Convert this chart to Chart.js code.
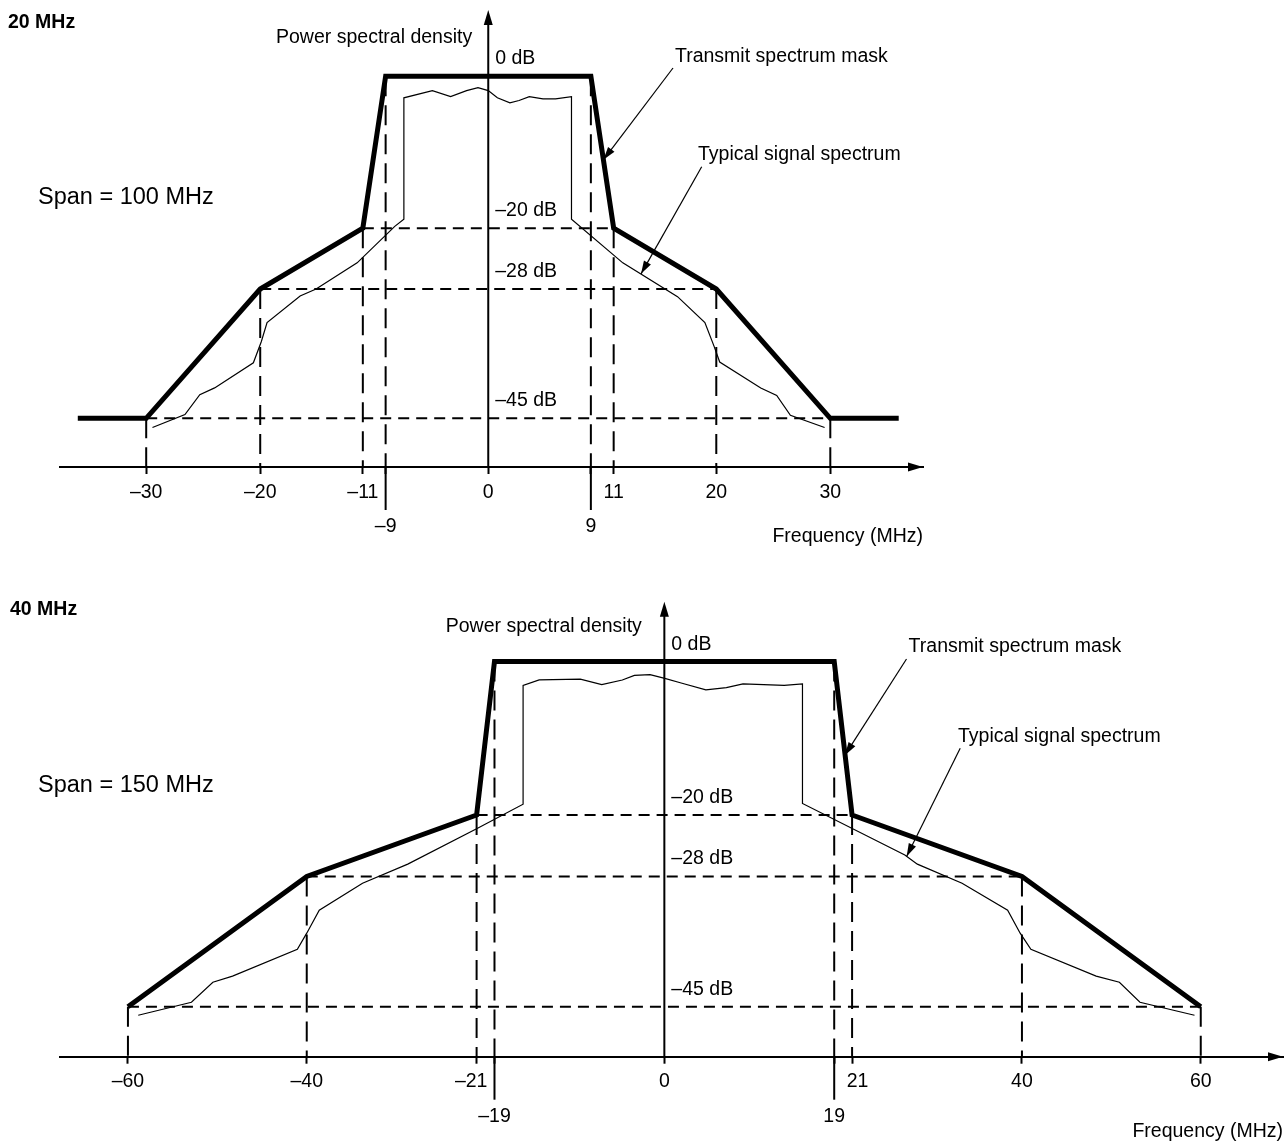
<!DOCTYPE html>
<html>
<head>
<meta charset="utf-8">
<title>Transmit spectrum mask</title>
<script src="https://cdn.jsdelivr.net/npm/chart.js@4.4.1/dist/chart.umd.min.js"></script>
<style>
  html, body { margin: 0; padding: 0; background: #fff; }
  canvas { position: absolute; left: 0; display: block; }
  #chart20 { top: 0; }
  #chart40 { top: 575px; }
</style>
</head>
<body>
<canvas id="chart20" width="1287" height="575"></canvas>
<canvas id="chart40" width="1287" height="571"></canvas>
<script>
const FONT = "'Liberation Sans', Arial, Helvetica, sans-serif";

// 20 MHz channel (MHz / dB)
const ticks20 = [-30, -20, -11, -9, 0, 9, 11, 20, 30];
const lowTicks20 = [-9, 9];
const levels20 = [0, -20, -28, -45];
const maskX20 = [-36, -30, -20, -11, -9, 9, 11, 20, 30, 36];
const maskY20 = [-45, -45, -28, -20, 0, 0, -20, -28, -45, -45];
const sigX20 = [-29.45, -26.6, -25.3, -24.0, -20.6, -19.9, -19.4, -16.5, -15.1, -11.5, -8.2, -7.4,
  -7.4, -4.9, -3.3, -1.9, -0.9, 0, 0.8, 1.9, 2.7, 3.6, 4.8, 5.9, 7.3,
  7.3, 11.8, 16.6, 19.0, 19.8, 20.3, 23.9, 25.3, 26.5, 29.5];
const sigY20 = [-46.2, -44.5, -41.9, -41.0, -37.7, -34.9, -32.4, -28.9, -28.0, -24.55, -19.75, -18.8,
  -2.85, -1.9, -2.7, -1.9, -1.5, -1.9, -2.85, -3.5, -3.2, -2.7, -3.0, -3.0, -2.7,
  -18.8, -24.55, -29.0, -32.4, -35.5, -37.6, -41.0, -42.0, -44.6, -46.2];

// 40 MHz channel (MHz / dB)
const ticks40 = [-60, -40, -21, -19, 0, 19, 21, 40, 60];
const lowTicks40 = [-19, 19];
const levels40 = [0, -20, -28, -45];
const maskX40 = [-60, -40, -21, -19, 19, 21, 40, 60];
const maskY40 = [-45, -28, -20, 0, 0, -20, -28, -45];
const sigX40 = [-58.85, -52.9, -50.5, -48.3, -41.05, -40.0, -38.6, -33.76, -28.7, -21.0, -15.8,
  -15.8, -14.0, -9.4, -7.0, -4.7, -3.35, -1.6, 0.05, 1.88, 4.64, 6.94, 8.8, 11.1, 13.4, 15.45,
  15.45, 26.9, 28.3, 33.3, 38.4, 39.8, 41.0, 48.3, 50.9, 53.2, 59.3];
const sigY40 = [-46.1, -44.4, -41.8, -41.0, -37.5, -35.4, -32.4, -28.9, -26.4, -21.8, -18.6,
  -3.1, -2.4, -2.3, -3.0, -2.4, -1.8, -1.7, -2.2, -2.8, -3.7, -3.4, -2.9, -3.0, -3.1, -2.9,
  -18.5, -25.2, -26.4, -28.9, -32.4, -35.4, -37.5, -41.0, -41.8, -44.4, -46.1];

function dash(v) {
  return v < 0 ? "\u2013" + (-v) : String(v);
}

function pts(xs, ys) {
  return xs.map((x, i) => ({ x: x, y: ys[i] }));
}

// mask level at a given frequency
function levelAt(xs, ys, x) {
  for (let i = 0; i < xs.length - 1; i++) {
    if (x >= xs[i] && x <= xs[i + 1]) {
      const t = (x - xs[i]) / (xs[i + 1] - xs[i]);
      return ys[i] + t * (ys[i + 1] - ys[i]);
    }
  }
  return ys[ys.length - 1];
}

function dashed(data, pattern) {
  return { data: data, borderColor: "#000", borderWidth: 2, borderDash: pattern, pointRadius: 0 };
}

function guideSets(spec) {
  const sets = [];
  spec.ticks.forEach((v) => {
    if (v === 0) return;
    const lvl = levelAt(spec.maskX, spec.maskY, v);
    sets.push(dashed([{ x: v, y: lvl }, { x: v, y: spec.yRange[0] }], [20, 9]));
    if (v < 0 && lvl < 0) sets.push(dashed([{ x: v, y: lvl }, { x: -v, y: lvl }], [11, 7]));
  });
  return sets;
}

function seg(ctx, x1, y1, x2, y2) {
  ctx.beginPath();
  ctx.moveTo(x1, y1);
  ctx.lineTo(x2, y2);
  ctx.stroke();
}

function head(ctx, fx, fy, tx, ty, len, half) {
  const ang = Math.atan2(ty - fy, tx - fx);
  const bx = tx - len * Math.cos(ang), by = ty - len * Math.sin(ang);
  const nx = -Math.sin(ang) * half, ny = Math.cos(ang) * half;
  ctx.beginPath();
  ctx.moveTo(tx, ty);
  ctx.lineTo(bx + nx, by + ny);
  ctx.lineTo(bx - nx, by - ny);
  ctx.closePath();
  ctx.fill();
}

function notesPlugin(spec) {
  return {
    id: "notes",
    afterDraw(chart) {
      const { ctx, chartArea: a } = chart;
      const sx = chart.scales.x, sy = chart.scales.y;
      const x0 = sx.getPixelForValue(0);
      ctx.save();
      ctx.strokeStyle = "#000";
      ctx.fillStyle = "#000";
      ctx.lineWidth = 2;
      // axes arrows
      seg(ctx, x0, a.top + 10, x0, a.bottom);
      head(ctx, x0, a.bottom, x0, a.top, 15, 4.5);
      head(ctx, a.left, a.bottom, a.right, a.bottom, 15, 4.5);
      // long ticks for the lower labels
      spec.lowTicks.forEach((v) => {
        const p = sx.getPixelForValue(v);
        seg(ctx, p, a.bottom, p, a.bottom + 43);
      });
      // dB labels
      ctx.textAlign = "left";
      ctx.textBaseline = "alphabetic";
      ctx.font = "19.5px " + FONT;
      spec.levels.forEach((l) => {
        ctx.fillText(dash(l) + " dB", x0 + 7, sy.getPixelForValue(l) - 12);
      });
      spec.texts.forEach((t) => {
        ctx.font = t.font;
        ctx.fillText(t.text, t.x, t.y);
      });
      // callout arrows
      ctx.lineWidth = 1.2;
      spec.callouts.forEach((c) => {
        const tx = sx.getPixelForValue(c.at[0]), ty = sy.getPixelForValue(c.at[1]);
        seg(ctx, c.from[0], c.from[1], tx, ty);
        head(ctx, c.from[0], c.from[1], tx, ty, 13, 4);
      });
      ctx.restore();
    }
  };
}

function drawPanel(id, spec) {
  const mask = { data: pts(spec.maskX, spec.maskY), borderColor: "#000", borderWidth: 5, pointRadius: 0, borderJoinStyle: "miter" };
  const signal = { data: pts(spec.sigX, spec.sigY), borderColor: "#000", borderWidth: 1.2, pointRadius: 0 };
  return new Chart(document.getElementById(id), {
    type: "line",
    data: { datasets: [mask, signal].concat(guideSets(spec)) },
    options: {
      responsive: false,
      animation: false,
      events: [],
      layout: { padding: spec.pad },
      plugins: { legend: { display: false }, tooltip: { enabled: false } },
      elements: { line: { tension: 0 } },
      scales: {
        x: {
          type: "linear",
          min: spec.xRange[0],
          max: spec.xRange[1],
          afterBuildTicks: (s) => { s.ticks = spec.ticks.map((v) => ({ value: v })); },
          afterFit: (s) => { s.height = spec.axisHeight; },
          grid: { display: true, drawOnChartArea: false, drawTicks: true, tickLength: 7, tickWidth: 2, tickColor: "#000" },
          border: { display: true, color: "#000", width: 2 },
          ticks: {
            autoSkip: false,
            maxRotation: 0,
            minRotation: 0,
            padding: 1,
            color: "#000",
            font: { family: FONT, size: 19.5, lineHeight: 1.77 },
            callback: (v) => {
              let s = dash(v);
              if (spec.nudge[v] === "l") s = s + "  ";
              if (spec.nudge[v] === "r") s = "  " + s;
              return spec.lowTicks.includes(v) ? ["", s] : s;
            }
          },
          title: {
            display: true,
            text: "Frequency (MHz)",
            align: "end",
            color: "#000",
            font: { family: FONT, size: 19.5, lineHeight: 1.2 },
            padding: { top: 0, bottom: spec.titlePad }
          }
        },
        y: { type: "linear", display: false, min: spec.yRange[0], max: spec.yRange[1] }
      }
    },
    plugins: [notesPlugin(spec)]
  });
}

drawPanel("chart20", {
  ticks: ticks20, lowTicks: lowTicks20, levels: levels20,
  maskX: maskX20, maskY: maskY20, sigX: sigX20, sigY: sigY20,
  xRange: [-37.56, 38.13], yRange: [-51.4, 8.7],
  pad: { left: 60, right: 364, top: 10, bottom: 0 },
  axisHeight: 108, titlePad: 27.1, nudge: {},
  texts: [
    { text: "20 MHz", x: 8, y: 28, font: "bold 19.5px " + FONT },
    { text: "Power spectral density", x: 276, y: 43, font: "19.5px " + FONT },
    { text: "Transmit spectrum mask", x: 675, y: 62, font: "19.5px " + FONT },
    { text: "Typical signal spectrum", x: 698, y: 159.5, font: "19.5px " + FONT },
    { text: "Span = 100 MHz", x: 38, y: 204, font: "23.5px " + FONT }
  ],
  callouts: [
    { from: [673, 68], at: [10.1, -11] },
    { from: [701.7, 166.7], at: [13.4, -26] }
  ]
});

drawPanel("chart40", {
  ticks: ticks40, lowTicks: lowTicks40, levels: levels40,
  maskX: maskX40, maskY: maskY40, sigX: sigX40, sigY: sigY40,
  xRange: [-67.6, 69.2], yRange: [-51.5, 7.8],
  pad: { left: 60, right: 4, top: 26.7, bottom: 0 },
  axisHeight: 89.3, titlePad: 2.8, nudge: { "-21": "l", "21": "r" },
  texts: [
    { text: "40 MHz", x: 10, y: 40, font: "bold 19.5px " + FONT },
    { text: "Power spectral density", x: 445.7, y: 56.7, font: "19.5px " + FONT },
    { text: "Transmit spectrum mask", x: 908.6, y: 76.7, font: "19.5px " + FONT },
    { text: "Typical signal spectrum", x: 958, y: 167.3, font: "19.5px " + FONT },
    { text: "Span = 150 MHz", x: 38, y: 216.7, font: "23.5px " + FONT }
  ],
  callouts: [
    { from: [906.5, 84], at: [20.2, -12.2] },
    { from: [960.2, 173.3], at: [27.1, -25.4] }
  ]
});
</script>
</body>
</html>
